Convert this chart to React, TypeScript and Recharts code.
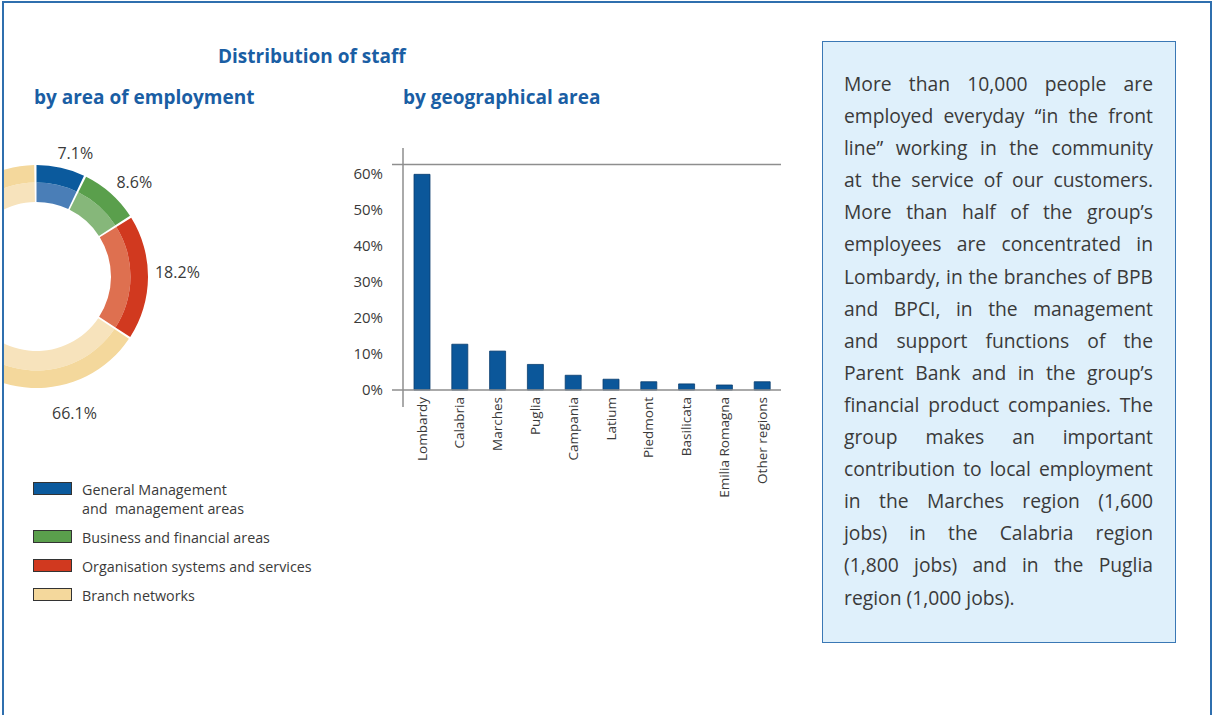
import { PieChart, Pie, Cell, BarChart, Bar, XAxis, YAxis, ReferenceLine } from 'recharts';

// staff by area of employment (%)
const areaNames = [
  'General Management\nand  management areas',
  'Business and financial areas',
  'Organisation systems and services',
  'Branch networks',
];
const areaShares = [7.1, 8.6, 18.2, 66.1];
const areaDark = ['#0b5a9d', '#5a9f4c', '#d1391f', '#f4d89c'];
const areaLight = ['#4a7eb7', '#86b77a', '#de7050', '#f7e3bc'];

// staff by geographical area (%)
const regions = [
  'Lombardy',
  'Calabria',
  'Marches',
  'Puglia',
  'Campania',
  'Latium',
  'Piedmont',
  'Basilicata',
  'Emilia Romagna',
  'Other regions',
];
const regionShares = [59.8, 12.7, 10.8, 7.1, 4.1, 3.0, 2.3, 1.7, 1.4, 2.3];
const yTicks = [0, 10, 20, 30, 40, 50, 60];

const noteLines = [
  'More than 10,000 people are',
  'employed everyday \u201cin the front',
  'line\u201d working in the community',
  'at the service of our customers.',
  'More than half of the group\u2019s',
  'employees are concentrated in',
  'Lombardy, in the branches of BPB',
  'and BPCI, in the management',
  'and support functions of the',
  'Parent Bank and in the group\u2019s',
  'financial product companies. The',
  'group makes an important',
  'contribution to local employment',
  'in the Marches region (1,600',
  'jobs) in the Calabria region',
  '(1,800 jobs) and in the Puglia',
  'region (1,000 jobs).',
];

const FONT = '"Open Sans", "Noto Sans", sans-serif';
const TITLE_BLUE = '#1a5ea4';
const TEXT = '#3a3a3a';
const AXIS = '#8e8e8e';

// where the donut labels sit: degrees clockwise from 12 o'clock, distance from centre
const labelSpots: [number, number][] = [
  [17.5, 129],
  [46, 136],
  [88, 141],
  [164.5, 142],
];

const pieData = areaNames.map((name, i) => ({ name, value: areaShares[i] }));
const barData = regions.map((region, i) => ({ region, share: regionShares[i] }));

function donutLabel(props: any) {
  const { cx, cy, index } = props;
  const [deg, r] = labelSpots[index];
  const a = (deg * Math.PI) / 180;
  return (
    <text
      key={index}
      x={cx + r * Math.sin(a)}
      y={cy - r * Math.cos(a)}
      textAnchor="middle"
      dominantBaseline="central"
      fill={TEXT}
      fontSize={16}
      fontFamily={FONT}
    >
      {areaShares[index].toFixed(1)}%
    </text>
  );
}

function RegionTick(props: any) {
  const { x, y, payload } = props;
  return (
    <text
      x={x}
      y={y - 10}
      dy="0.35em"
      transform={`rotate(-90, ${x}, ${y - 10})`}
      textAnchor="end"
      fill={TEXT}
      fontSize={13.5}
      fontFamily={FONT}
    >
      {payload.value}
    </text>
  );
}

// horizontal rule that pokes a little past the y axis, like the print original
function Rule(props: any) {
  const { x1, y1, x2, y2 } = props;
  return <line x1={x1 - 11} y1={y1} x2={x2} y2={y2} stroke={AXIS} strokeWidth={1.5} />;
}

const titleStyle = {
  position: 'absolute' as const,
  lineHeight: '26px',
  fontSize: 19,
  fontWeight: 700,
  color: TITLE_BLUE,
  whiteSpace: 'nowrap' as const,
};

export default function App() {
  return (
    <div style={{ position: 'absolute', left: 0, top: 0, width: 1213, height: 715, overflow: 'hidden', background: '#fff', fontFamily: FONT }}>
      <div style={{ position: 'absolute', left: 2, top: 1, width: 1206, height: 760, border: '2px solid #2f6fae' }} />

      <div style={{ ...titleStyle, left: 218, top: 43 }}>Distribution of staff</div>
      <div style={{ ...titleStyle, left: 34, top: 84 }}>by area of employment</div>
      <div style={{ ...titleStyle, left: 403, top: 84 }}>by geographical area</div>

      {/* donut, cut by the frame on the left */}
      <div style={{ position: 'absolute', left: 4, top: 120, width: 230, height: 310, overflow: 'hidden' }}>
        <PieChart width={230} height={310} margin={{ top: 0, right: 0, bottom: 0, left: 0 }}>
          <Pie
            data={pieData}
            dataKey="value"
            cx={32.5}
            cy={156.5}
            innerRadius={74.5}
            outerRadius={94}
            startAngle={90}
            endAngle={-270}
            paddingAngle={1.2}
            stroke="none"
            isAnimationActive={false}
          >
            {pieData.map((_, i) => (
              <Cell key={i} fill={areaLight[i]} />
            ))}
          </Pie>
          <Pie
            data={pieData}
            dataKey="value"
            cx={32.5}
            cy={156.5}
            innerRadius={94}
            outerRadius={111.5}
            startAngle={90}
            endAngle={-270}
            paddingAngle={1.2}
            stroke="none"
            label={donutLabel}
            labelLine={false}
            isAnimationActive={false}
          >
            {pieData.map((_, i) => (
              <Cell key={i} fill={areaDark[i]} />
            ))}
          </Pie>
        </PieChart>
      </div>

      {/* legend */}
      <div style={{ position: 'absolute', left: 33, top: 480, fontSize: 14.3, color: TEXT, lineHeight: '19px' }}>
        {areaNames.map((name, i) => (
          <div key={i} style={{ display: 'flex', alignItems: 'flex-start', marginBottom: 10 }}>
            <div style={{ width: 37, height: 11, marginTop: 2, background: areaDark[i], border: '1px solid #333', flex: 'none' }} />
            <div style={{ marginLeft: 10, whiteSpace: 'pre' }}>{name}</div>
          </div>
        ))}
      </div>

      {/* bar chart */}
      <div style={{ position: 'absolute', left: 330, top: 130 }}>
        <BarChart width={470} height={390} data={barData} margin={{ top: 18, right: 19, bottom: 13, left: 0 }}>
          <XAxis
            dataKey="region"
            axisLine={false}
            tickLine={false}
            tickSize={0}
            tickMargin={0}
            interval={0}
            height={100}
            tick={<RegionTick />}
          />
          <YAxis
            width={73}
            domain={[-4.7, 67.1]}
            allowDataOverflow
            ticks={yTicks}
            tickFormatter={(v) => `${v}%`}
            axisLine={{ stroke: AXIS, strokeWidth: 1.5 }}
            tickLine={false}
            tickSize={0}
            tickMargin={20}
            tick={{ fill: TEXT, fontSize: 15, fontFamily: FONT }}
          />
          <ReferenceLine y={62.5} shape={<Rule />} />
          <ReferenceLine y={0} shape={<Rule />} />
          <Bar dataKey="share" fill="#0b579a" stroke="#0a3d6e" strokeWidth={0.8} barSize={16} isAnimationActive={false} />
        </BarChart>
      </div>

      {/* commentary box */}
      <div
        style={{
          position: 'absolute',
          left: 822,
          top: 41,
          width: 309,
          height: 574,
          padding: '26px 22px 0 21px',
          background: '#dff0fb',
          border: '1.5px solid #3a78b5',
          fontSize: 19.3,
          lineHeight: '32.1px',
          color: TEXT,
        }}
      >
        {noteLines.map((line, i) => (
          <div
            key={i}
            style={{
              whiteSpace: 'nowrap',
              textAlign: 'justify',
              textAlignLast: i === noteLines.length - 1 ? 'left' : 'justify',
            }}
          >
            {line}
          </div>
        ))}
      </div>
    </div>
  );
}
